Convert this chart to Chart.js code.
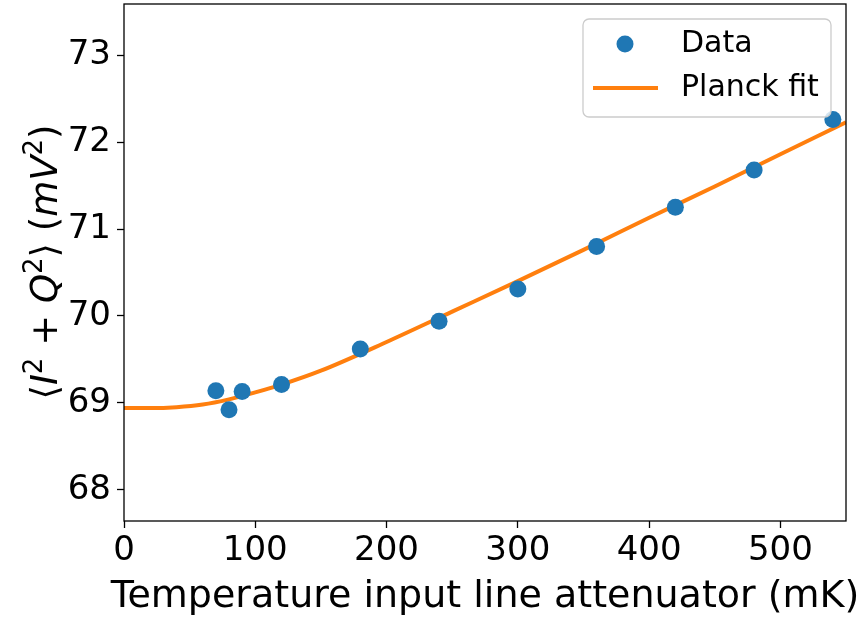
<!DOCTYPE html>
<html>
<head>
<meta charset="utf-8">
<script src="https://cdn.jsdelivr.net/npm/chart.js@4"></script>
<style>
  html, body { margin: 0; padding: 0; background: #fff; }
  #wrap { width: 858px; height: 621px; }
</style>
</head>
<body>
<div id="wrap"><canvas id="plot" width="858" height="621"></canvas></div>
<script>
// measured points
const dataTemp = [70, 80, 90, 120, 180, 240, 300, 360, 420, 480, 540];
const dataPower = [69.14, 68.92, 69.13, 69.21, 69.62, 69.94, 70.31, 70.80, 71.25, 71.68, 72.26];

// fit curve
const fitTemp = [0, 20, 40, 60, 80, 100, 120, 150, 200, 250, 300, 350, 400, 450, 500, 550];
const fitPower = [68.94, 68.94, 68.95, 68.98, 69.04, 69.12, 69.21, 69.37, 69.70, 70.05, 70.40, 70.76, 71.13, 71.49, 71.86, 72.23];

const xTicks = [0, 100, 200, 300, 400, 500];
const yTicks = [68, 69, 70, 71, 72, 73];

const FONT = 'DejaVu Sans';
const BLUE = '#1f77b4';
const ORANGE = '#ff7f0e';

// frame round the plot area
const framePlugin = {
    id: 'frame',
    afterDraw(chart) {
        const a = chart.chartArea;
        const ctx = chart.ctx;
        ctx.save();
        ctx.strokeStyle = '#000';
        ctx.lineWidth = 1.3;
        ctx.strokeRect(a.left, a.top, a.right - a.left, a.bottom - a.top);
        ctx.restore();
    }
};

// axis labels; the y one has italic letters and superscripts (mathtext style)
const axisLabelPlugin = {
    id: 'axisLabels',
    afterDraw(chart) {
        const ctx = chart.ctx;
        ctx.save();
        ctx.fillStyle = '#000';

        ctx.font = '38px "' + FONT + '"';
        ctx.textAlign = 'center';
        ctx.textBaseline = 'middle';
        ctx.fillText('Temperature input line attenuator (mK)', 485, 597);

        const size = 37;
        const parts = [
            { t: '\u27E8' },
            { t: 'I', it: true },
            { t: '2', sup: true },
            { t: ' + ' },
            { t: 'Q', it: true },
            { t: '2', sup: true },
            { t: '\u27E9' },
            { t: ' (' },
            { t: 'mV', it: true },
            { t: '2', sup: true },
            { t: ')' }
        ];
        const fontOf = p => (p.it ? 'italic ' : '') + (p.sup ? Math.round(size * 0.7) : size) + 'px "' + FONT + '"';
        let total = 0;
        parts.forEach(p => { ctx.font = fontOf(p); p.w = ctx.measureText(p.t).width; total += p.w; });
        ctx.translate(44, 262);
        ctx.rotate(-Math.PI / 2);
        ctx.textAlign = 'left';
        ctx.textBaseline = 'alphabetic';
        let x = -total / 2;
        const base = size * 0.36;
        parts.forEach(p => {
            ctx.font = fontOf(p);
            ctx.fillText(p.t, x, p.sup ? base - size * 0.42 : base);
            x += p.w;
        });
        ctx.restore();
    }
};

// legend box at top right inside the axes
const legendPlugin = {
    id: 'boxLegend',
    afterDraw(chart) {
        const ctx = chart.ctx;
        const x0 = 583, y0 = 19, w = 248, h = 98, r = 6;
        ctx.save();
        ctx.beginPath();
        ctx.moveTo(x0 + r, y0);
        ctx.arcTo(x0 + w, y0, x0 + w, y0 + h, r);
        ctx.arcTo(x0 + w, y0 + h, x0, y0 + h, r);
        ctx.arcTo(x0, y0 + h, x0, y0, r);
        ctx.arcTo(x0, y0, x0 + w, y0, r);
        ctx.closePath();
        ctx.fillStyle = 'rgba(255,255,255,0.8)';
        ctx.fill();
        ctx.strokeStyle = '#cccccc';
        ctx.lineWidth = 1.3;
        ctx.stroke();

        ctx.fillStyle = BLUE;
        ctx.beginPath();
        ctx.arc(625, 44, 8.5, 0, Math.PI * 2);
        ctx.fill();

        ctx.strokeStyle = ORANGE;
        ctx.lineWidth = 4;
        ctx.beginPath();
        ctx.moveTo(593, 88);
        ctx.lineTo(658, 88);
        ctx.stroke();

        ctx.fillStyle = '#000';
        ctx.font = '30px "' + FONT + '"';
        ctx.textBaseline = 'middle';
        ctx.fillText('Data', 681, 44);
        ctx.fillText('Planck fit', 681, 88);
        ctx.restore();
    }
};

const noPad = s => { s.paddingTop = 0; s.paddingBottom = 0; s.paddingLeft = 0; s.paddingRight = 0; };

const ctx = document.getElementById('plot').getContext('2d');
new Chart(ctx, {
    type: 'scatter',
    data: {
        datasets: [
            {
                label: 'Planck fit',
                type: 'line',
                data: fitTemp.map((t, i) => ({ x: t, y: fitPower[i] })),
                borderColor: ORANGE,
                borderWidth: 4,
                pointRadius: 0,
                fill: false,
                cubicInterpolationMode: 'monotone',
                order: 2
            },
            {
                label: 'Data',
                data: dataTemp.map((t, i) => ({ x: t, y: dataPower[i] })),
                backgroundColor: BLUE,
                borderWidth: 0,
                pointRadius: 8.5,
                order: 1
            }
        ]
    },
    options: {
        responsive: false,
        animation: false,
        layout: { autoPadding: false, padding: { top: 4, right: 12, left: 0, bottom: 0 } },
        plugins: { legend: { display: false }, tooltip: { enabled: false } },
        scales: {
            x: {
                type: 'linear',
                min: 0,
                max: 550,
                afterBuildTicks: s => { s.ticks = xTicks.map(v => ({ value: v })); },
                afterFit: s => { s.height = 100; noPad(s); },
                grid: { drawOnChartArea: false, color: '#000', tickLength: 7, tickWidth: 1.3 },
                border: { display: false },
                ticks: { color: '#000', font: { family: FONT, size: 34 }, padding: 3, maxRotation: 0 }
            },
            y: {
                type: 'linear',
                min: 67.64,
                max: 73.59,
                afterBuildTicks: s => { s.ticks = yTicks.map(v => ({ value: v })); },
                afterFit: s => { s.width = 124; noPad(s); },
                grid: { drawOnChartArea: false, color: '#000', tickLength: 7, tickWidth: 1.3 },
                border: { display: false },
                ticks: { color: '#000', font: { family: FONT, size: 34 }, padding: 6 }
            }
        }
    },
    plugins: [framePlugin, axisLabelPlugin, legendPlugin]
});
</script>
</body>
</html>
